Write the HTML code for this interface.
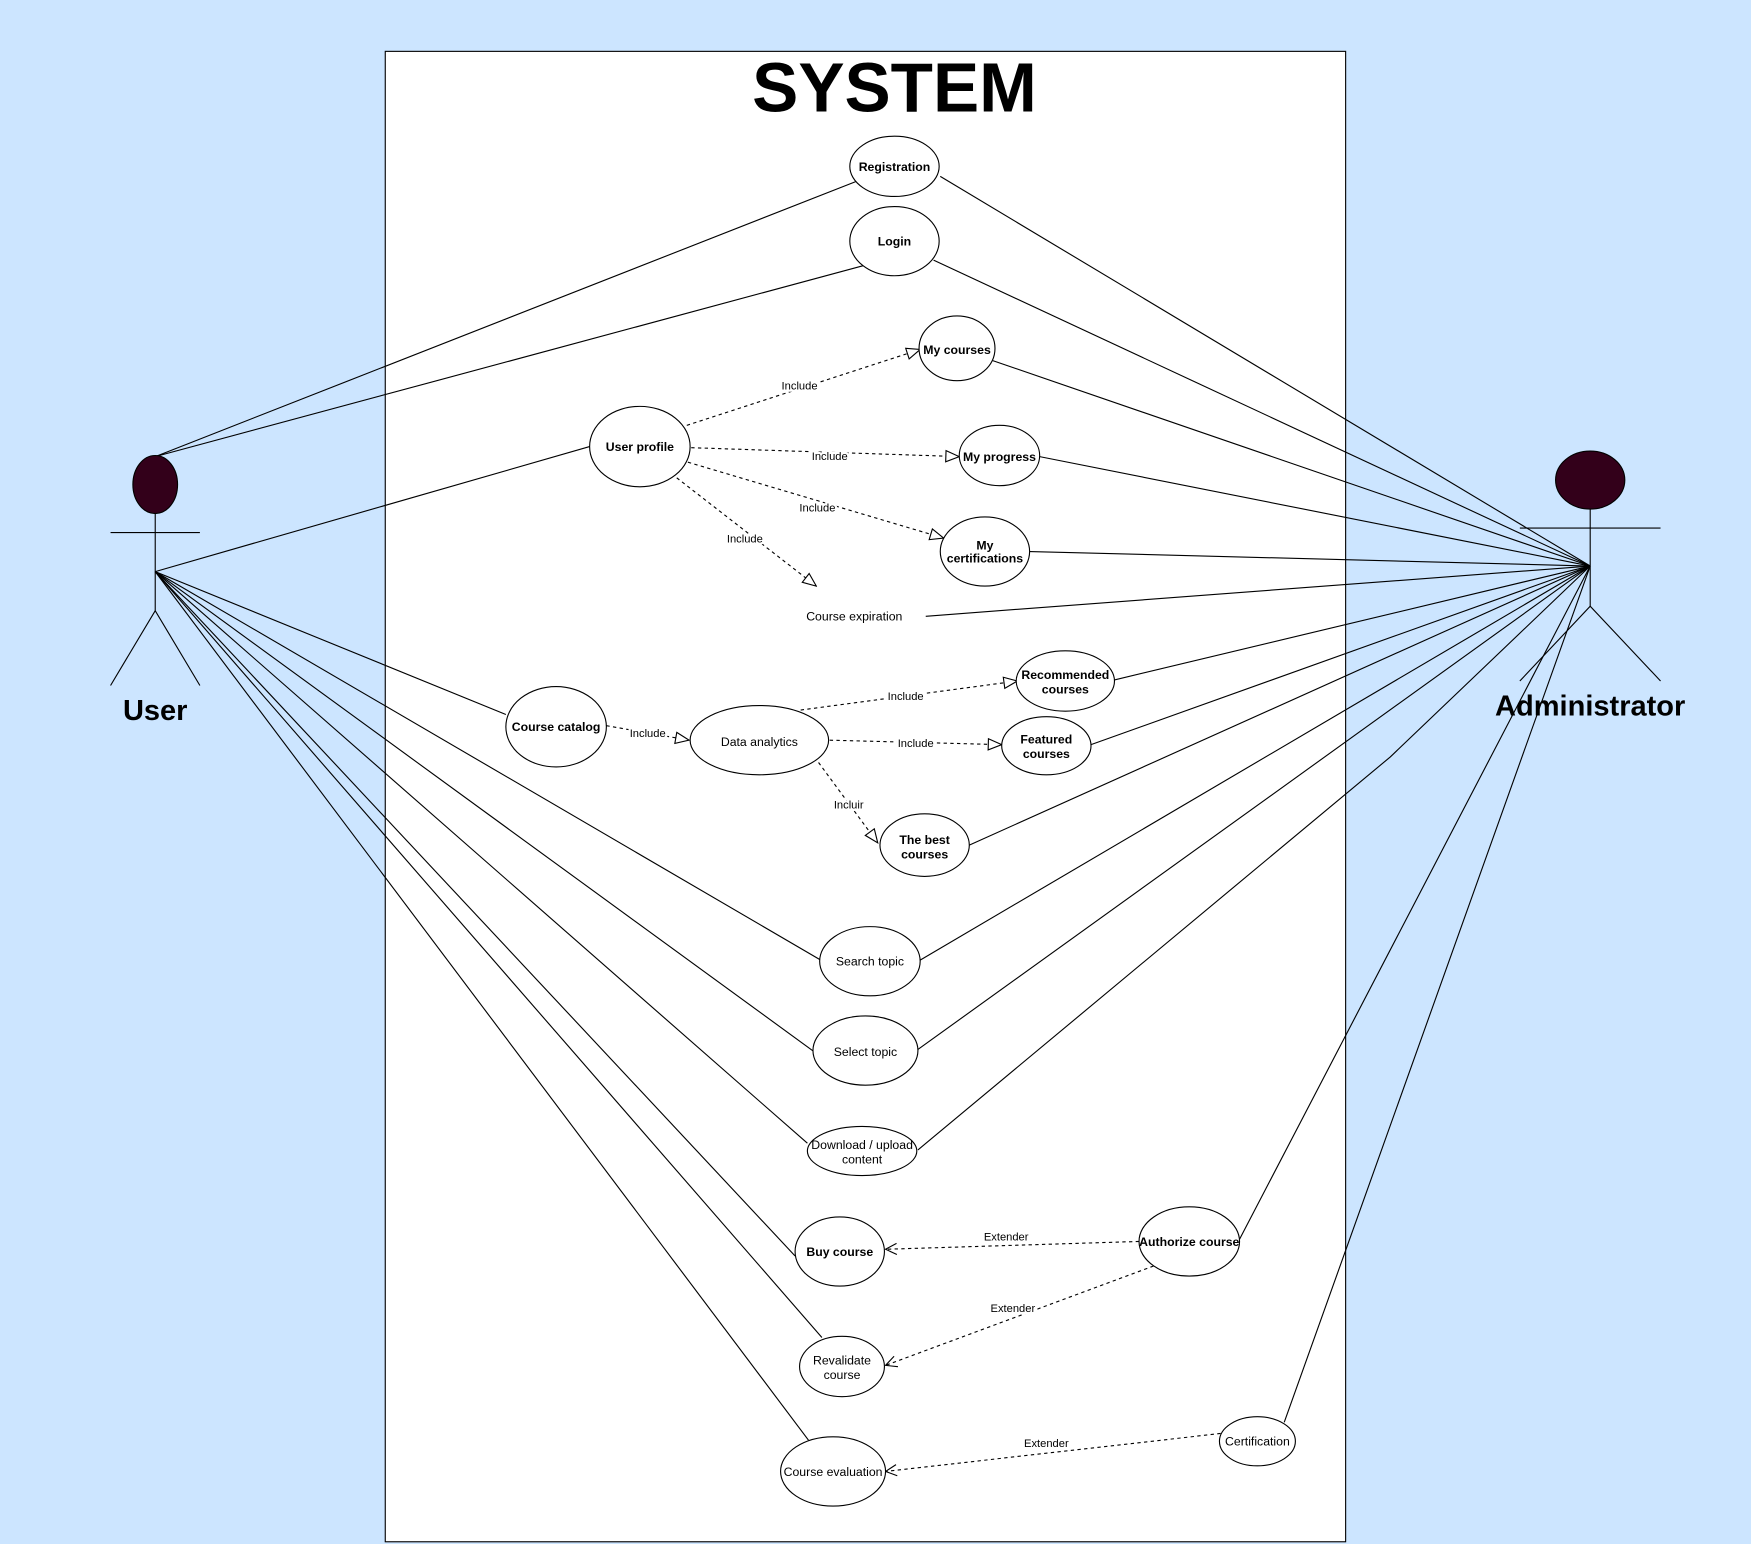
<!DOCTYPE html>
<html><head><meta charset="utf-8"><style>
html,body{margin:0;padding:0;background:#cce5ff;}
svg{display:block}
text{font-family:"Liberation Sans",Arial,sans-serif;}
.t{font-size:11px;text-anchor:middle;fill:#000}
.b{font-weight:bold}
.l{font-size:10px;text-anchor:middle;paint-order:stroke;stroke:#fff;stroke-width:4px;fill:#000}
</style></head><body>
<svg width="1751" height="1544" viewBox="0 0 1568 1383" preserveAspectRatio="none" xmlns="http://www.w3.org/2000/svg">
<defs>
<marker id="tri" markerWidth="14" markerHeight="12" refX="13" refY="6" orient="auto" markerUnits="userSpaceOnUse"><path d="M1,1 L13,6 L1,11 Z" fill="#fff" stroke="#000" stroke-width="1"/></marker>
<marker id="opn" markerWidth="12" markerHeight="12" refX="11" refY="6" orient="auto" markerUnits="userSpaceOnUse"><path d="M1,1 L11,6 L1,11" fill="none" stroke="#000" stroke-width="1"/></marker>
</defs>
<rect x="0" y="0" width="1568" height="1383" fill="#cce5ff"/>
<rect x="345" y="46" width="860" height="1335" fill="#fff" stroke="#000" stroke-width="1"/>
<text x="801" y="100" text-anchor="middle" font-size="62" font-weight="bold">SYSTEM</text>

<g stroke="#000" stroke-width="1" fill="none">
<!-- user lines -->
<line x1="139" y1="409" x2="768" y2="162"/>
<line x1="139" y1="409" x2="773" y2="238"/>
<line x1="139" y1="512" x2="528" y2="400"/>
<line x1="139" y1="512" x2="453" y2="640"/>
<line x1="139" y1="512" x2="735" y2="860"/>
<line x1="139" y1="512" x2="729" y2="942"/>
<line x1="139" y1="512" x2="723" y2="1024"/>
<line x1="139" y1="512" x2="712" y2="1125"/>
<line x1="139" y1="512" x2="736" y2="1198"/>
<line x1="139" y1="512" x2="724" y2="1290"/>
<!-- admin lines -->
<line x1="1424" y1="507" x2="842" y2="158"/>
<line x1="1424" y1="507" x2="836" y2="233"/>
<line x1="1424" y1="507" x2="889" y2="323"/>
<line x1="1424" y1="507" x2="931" y2="409"/>
<line x1="1424" y1="507" x2="922" y2="494"/>
<line x1="1424" y1="507" x2="829" y2="552"/>
<line x1="1424" y1="507" x2="998" y2="609"/>
<line x1="1424" y1="507" x2="977" y2="667"/>
<line x1="1424" y1="507" x2="868" y2="757"/>
<line x1="1424" y1="507" x2="824" y2="860"/>
<line x1="1424" y1="507" x2="822" y2="940"/>
<polyline points="1424,507 1245,678 822,1030"/>
<line x1="1424" y1="507" x2="1110" y2="1110"/>
<line x1="1424" y1="507" x2="1150" y2="1274"/>
</g>

<!-- dashed -->
<g stroke="#000" stroke-width="1" fill="none" stroke-dasharray="3,3">
<line x1="615" y1="381" x2="824" y2="313" marker-end="url(#tri)"/>
<line x1="619" y1="401" x2="859" y2="409" marker-end="url(#tri)"/>
<line x1="616" y1="414" x2="845" y2="482" marker-end="url(#tri)"/>
<line x1="606" y1="428" x2="731" y2="525" marker-end="url(#tri)"/>
<line x1="543" y1="650" x2="617" y2="663" marker-end="url(#tri)"/>
<line x1="717" y1="636" x2="911" y2="610" marker-end="url(#tri)"/>
<line x1="743" y1="663" x2="897" y2="667" marker-end="url(#tri)"/>
<line x1="733" y1="683" x2="786" y2="755" marker-end="url(#tri)"/>
<line x1="1020" y1="1112" x2="793" y2="1119" marker-end="url(#opn)"/>
<line x1="1033" y1="1134" x2="793" y2="1223" marker-end="url(#opn)"/>
<line x1="1093" y1="1284" x2="793" y2="1318" marker-end="url(#opn)"/>
</g>
<text class="l" x="716" y="349">Include</text>
<text class="l" x="743" y="412">Include</text>
<text class="l" x="732" y="458">Include</text>
<text class="l" x="667" y="486">Include</text>
<text class="l" x="580" y="660">Include</text>
<text class="l" x="811" y="627">Include</text>
<text class="l" x="820" y="669">Include</text>
<text class="l" x="760" y="724">Incluir</text>
<text class="l" x="901" y="1111">Extender</text>
<text class="l" x="907" y="1175">Extender</text>
<text class="l" x="937" y="1296">Extender</text>

<!-- ellipses -->
<g stroke="#000" stroke-width="1" fill="#fff">
<ellipse cx="801" cy="149" rx="40" ry="27"/>
<ellipse cx="801" cy="216" rx="40" ry="31"/>
<ellipse cx="857" cy="312" rx="34" ry="29"/>
<ellipse cx="573" cy="400" rx="45" ry="36"/>
<ellipse cx="895" cy="408" rx="36" ry="27"/>
<ellipse cx="882" cy="494" rx="40" ry="31"/>
<ellipse cx="498" cy="651" rx="45" ry="36"/>
<ellipse cx="680" cy="663" rx="62" ry="31"/>
<ellipse cx="954" cy="610" rx="44" ry="27"/>
<ellipse cx="937" cy="668" rx="40" ry="26"/>
<ellipse cx="828" cy="757" rx="40" ry="28"/>
<ellipse cx="779" cy="861" rx="45" ry="31"/>
<ellipse cx="775" cy="941" rx="47" ry="31"/>
<ellipse cx="772" cy="1031" rx="49" ry="22"/>
<ellipse cx="752" cy="1121" rx="40" ry="31"/>
<ellipse cx="1065" cy="1112" rx="45" ry="31"/>
<ellipse cx="754" cy="1224" rx="38" ry="27"/>
<ellipse cx="746" cy="1318" rx="47" ry="31"/>
<ellipse cx="1126" cy="1291" rx="34" ry="22"/>
</g>
<text class="t b" x="801" y="153">Registration</text>
<text class="t b" x="801" y="220">Login</text>
<text class="t b" x="857" y="317">My courses</text>
<text class="t b" x="573" y="404">User profile</text>
<text class="t b" x="895" y="413">My progress</text>
<text class="t b" x="882" y="492">My</text>
<text class="t b" x="882" y="504">certifications</text>
<text class="t" x="765" y="556">Course expiration</text>
<text class="t b" x="498" y="655">Course catalog</text>
<text class="t" x="680" y="668">Data analytics</text>
<text class="t b" x="954" y="608">Recommended</text>
<text class="t b" x="954" y="621">courses</text>
<text class="t b" x="937" y="666">Featured</text>
<text class="t b" x="937" y="679">courses</text>
<text class="t b" x="828" y="756">The best</text>
<text class="t b" x="828" y="769">courses</text>
<text class="t" x="779" y="865">Search topic</text>
<text class="t" x="775" y="946">Select topic</text>
<text class="t" x="772" y="1029">Download / upload</text>
<text class="t" x="772" y="1042">content</text>
<text class="t b" x="752" y="1125">Buy course</text>
<text class="t b" x="1065" y="1116">Authorize course</text>
<text class="t" x="754" y="1222">Revalidate</text>
<text class="t" x="754" y="1235">course</text>
<text class="t" x="746" y="1322">Course evaluation</text>
<text class="t" x="1126" y="1295">Certification</text>

<!-- actors -->
<g stroke="#000" stroke-width="1" fill="none">
<ellipse cx="139" cy="434" rx="20" ry="26" fill="#33001a"/>
<line x1="99" y1="477" x2="179" y2="477"/>
<line x1="139" y1="460" x2="139" y2="547"/>
<polyline points="99,614 139,547 179,614"/>
<ellipse cx="1424" cy="430" rx="31" ry="26" fill="#33001a"/>
<line x1="1361" y1="473" x2="1487" y2="473"/>
<line x1="1424" y1="456" x2="1424" y2="543"/>
<polyline points="1361,610 1424,543 1487,610"/>
</g>
<text x="139" y="645" text-anchor="middle" font-size="26" font-weight="bold">User</text>
<text x="1424" y="641" text-anchor="middle" font-size="26" font-weight="bold">Administrator</text>
</svg>
</body></html>
